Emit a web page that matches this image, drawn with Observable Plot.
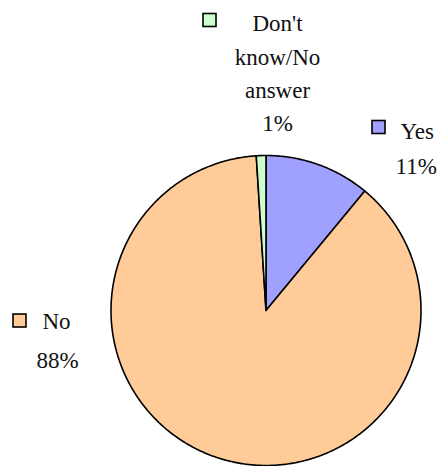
<!DOCTYPE html>
<html>
<head>
<meta charset="utf-8">
<script src="https://cdn.jsdelivr.net/npm/d3@7"></script>
<script src="https://cdn.jsdelivr.net/npm/@observablehq/plot@0.6"></script>
<style>
  html, body { margin: 0; padding: 0; background: #fff; }
  svg { display: block; }
  #note { margin: 0; font-family: "Liberation Serif"; font-size: 2px; color: #fff; }
</style>
</head>
<body>
<div id="chart"></div>
<p id="note">&nbsp;</p>
<script>
// Data
const categories = ["Yes", "No", "Don't know/No answer"];
const values = [11, 88, 1];
const percentLabels = ["11%", "88%", "1%"];
const colors = ["#a0a0ff", "#ffcc99", "#ccffcc"];

// Layout
const W = 442, H = 466;
const cx = 265.5, cy = 310, R = 155;
const F = "Liberation Serif";
const labelSize = 23;

// Pie geometry from data (clockwise from 12 o'clock)
const arcs = d3.pie().sort(null).value(d => d)(values);
const polyPoints = [];
arcs.forEach((a, i) => {
  const key = categories[i];
  polyPoints.push({key, x: cx, y: cy});
  const n = Math.max(2, Math.ceil((a.endAngle - a.startAngle) / (Math.PI / 360)));
  for (let k = 0; k <= n; k++) {
    const t = a.startAngle + (a.endAngle - a.startAngle) * k / n;
    polyPoints.push({key, x: cx + R * Math.sin(t), y: cy - R * Math.cos(t)});
  }
  polyPoints.push({key, x: cx, y: cy});
});

// Label layout (legend key square + text lines)
const keyPos = [
  {key: "Yes", x: 378.5, y: 127},
  {key: "No", x: 19.5, y: 320.5},
  {key: "Don't know/No answer", x: 209.5, y: 20}
];
const labelLines = [
  {text: "Yes", x: 400, y: 138, anchor: "start"},
  {text: percentLabels[0], x: 395, y: 173, anchor: "start"},
  {text: "No", x: 42, y: 328, anchor: "start"},
  {text: percentLabels[1], x: 36, y: 367, anchor: "start"},
  {text: "Don't", x: 277, y: 30, anchor: "middle"},
  {text: "know/No", x: 277, y: 64, anchor: "middle"},
  {text: "answer", x: 277, y: 97, anchor: "middle"},
  {text: percentLabels[2], x: 277, y: 130, anchor: "middle"}
];
const half = 6.5;
const keyRects = keyPos.map(d => ({key: d.key, x1: d.x - half, x2: d.x + half, y1: d.y - half, y2: d.y + half}));

const chart = Plot.plot({
  width: W, height: H,
  margin: 0,
  x: {domain: [0, W], range: [0, W], axis: null},
  y: {domain: [0, H], range: [0, H], axis: null},
  color: {domain: categories, range: colors},
  marks: [
    Plot.line(polyPoints, {x: "x", y: "y", z: "key", fill: "key", stroke: "#000", strokeWidth: 1.6, strokeLinejoin: "round"}),
    Plot.rect(keyRects, {x1: "x1", x2: "x2", y1: "y1", y2: "y2", fill: "key", stroke: "#000", strokeWidth: 1.6}),
    Plot.text(labelLines.filter(d => d.anchor === "start"), {x: "x", y: "y", text: "text", textAnchor: "start", lineAnchor: "bottom", fontSize: labelSize, fontFamily: F, fill: "#111"}),
    Plot.text(labelLines.filter(d => d.anchor === "middle"), {x: "x", y: "y", text: "text", textAnchor: "middle", lineAnchor: "bottom", fontSize: labelSize, fontFamily: F, fill: "#111"})
  ]
});
document.getElementById("chart").appendChild(chart);
</script>
</body>
</html>
